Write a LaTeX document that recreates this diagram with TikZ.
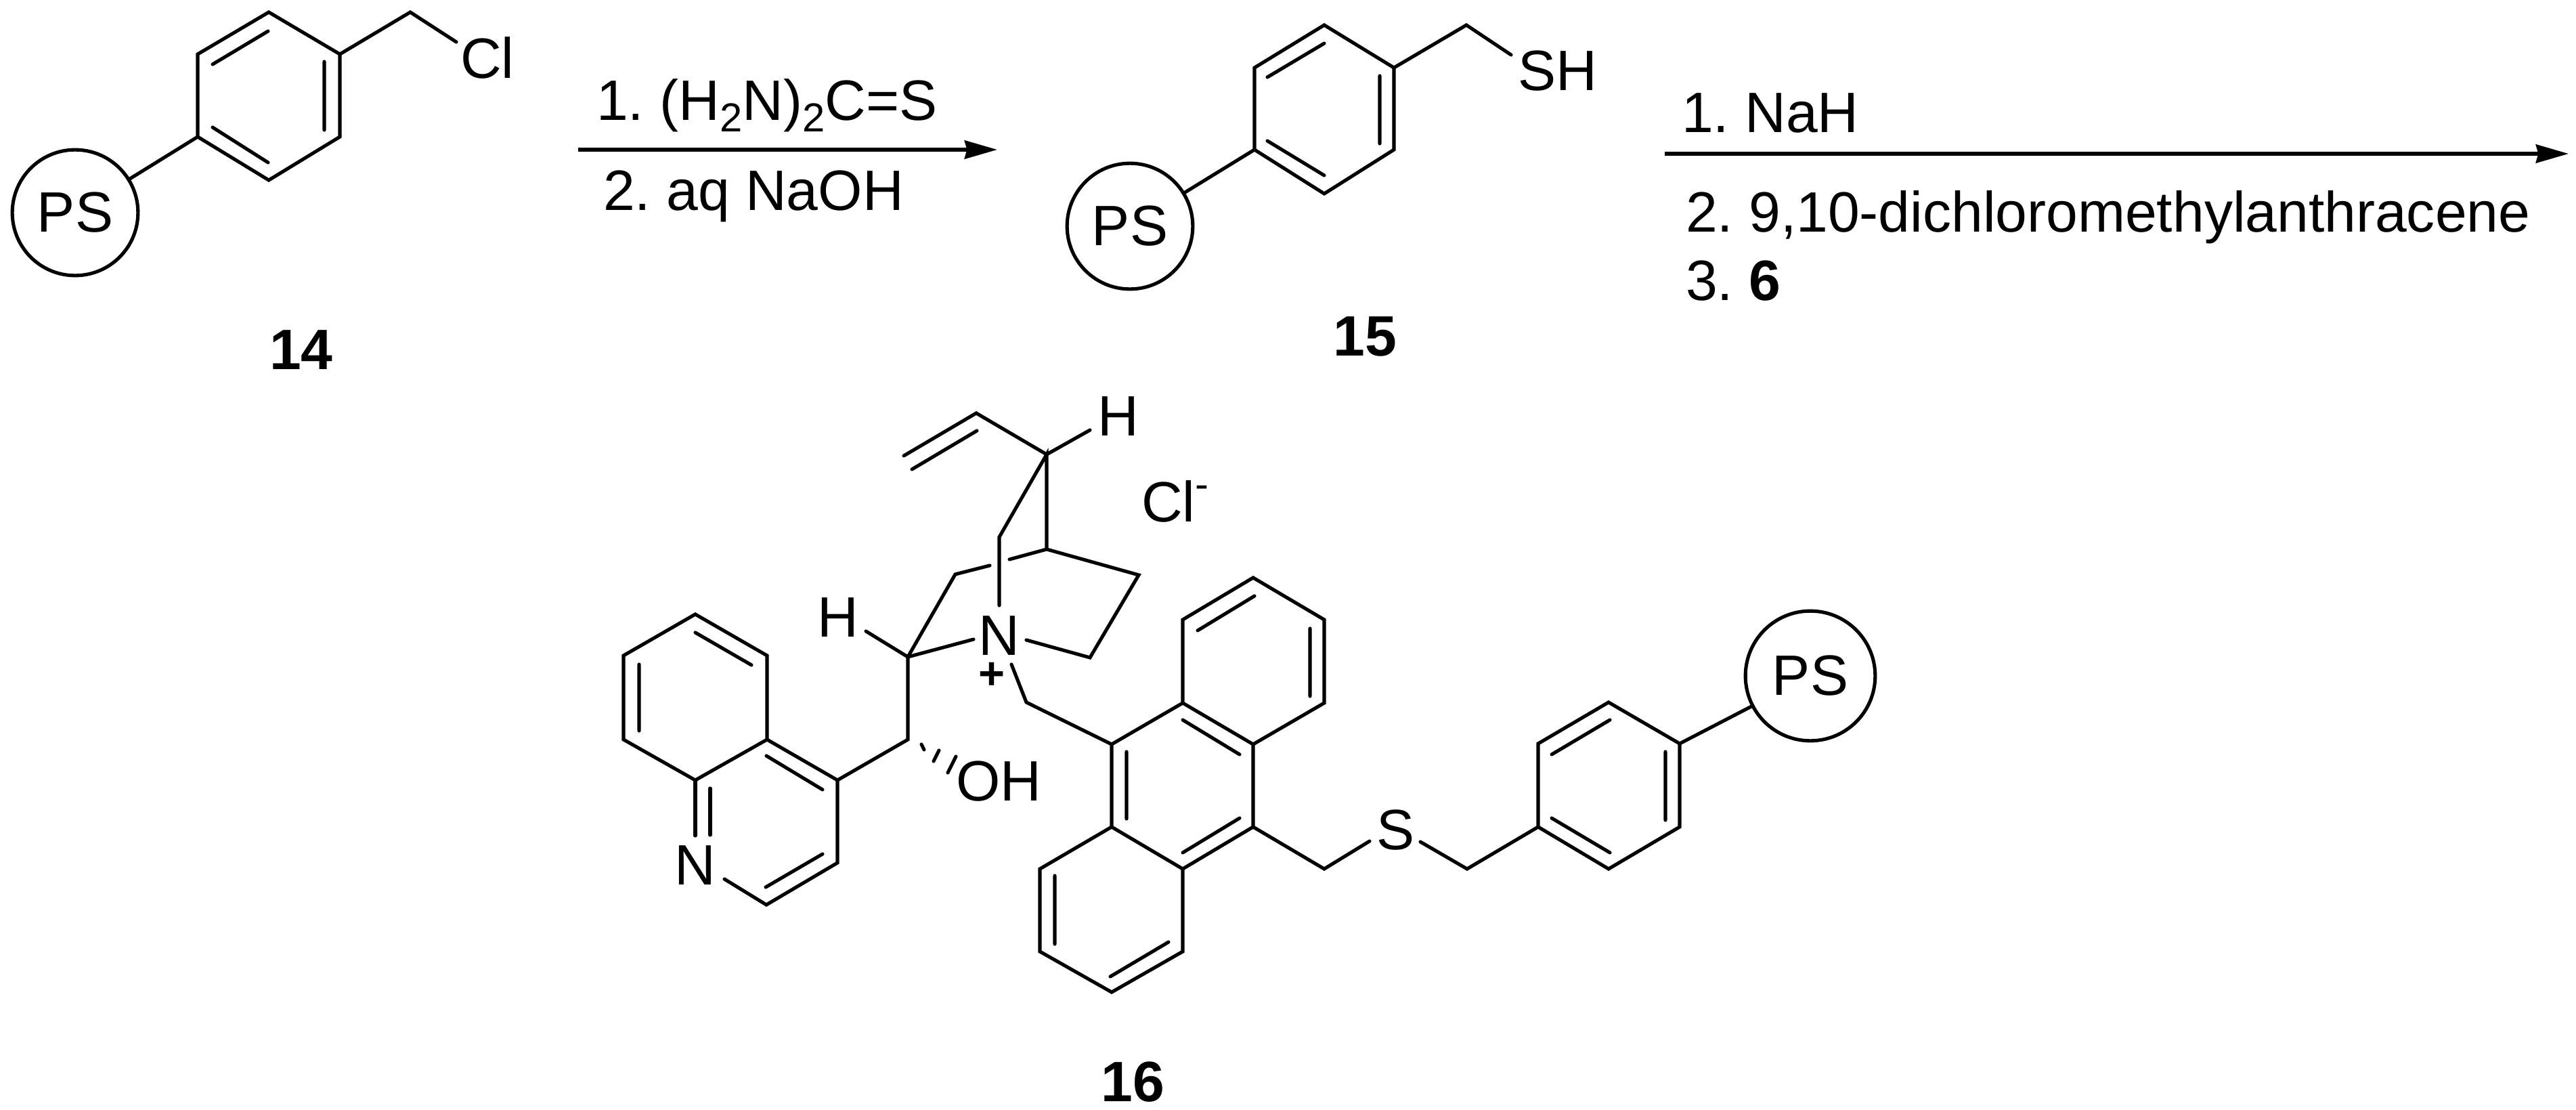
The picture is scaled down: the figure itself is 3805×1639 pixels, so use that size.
\documentclass[tikz,border=0pt]{standalone}
\usepackage{fontspec}
\setmainfont{Liberation Sans}
\usetikzlibrary{arrows.meta}
\frenchspacing
\newcommand\atm[3]{\coordinate (#1) at (#2,#3);}
\newcommand\chemsub[1]{\raisebox{-5.1pt}{\fontsize{17pt}{17pt}\selectfont #1}}
\tikzset{
  bond/.style={line width=1.45pt,line cap=round,black},
  rxn/.style={line width=1.5pt,black,-{Stealth[length=13.7pt,width=7.7pt,inset=1pt]}},
  txt/.style={inner sep=0,outer sep=0,font=\fontsize{23.9pt}{28pt}\selectfont,text=black},
  lbl/.style={txt,font=\bfseries\fontsize{23.9pt}{28pt}\selectfont},
  ps/.style={draw,circle,line width=1.45pt,inner sep=0,outer sep=0,txt,draw=black},
}
\begin{document}
\begin{tikzpicture}[x=0.01cm,y=-0.01cm]
\useasboundingbox (0,0) rectangle (3805,1639);
% ---------- compound 14
\node[ps,minimum size=52.8pt] (psA) at (111,314) {PS};
\atm{a1}{397}{18}\atm{a2}{502}{80}\atm{a3}{502}{202}\atm{a4}{397}{266}\atm{a5}{292}{202}\atm{a6}{292}{80}
\atm{a7}{606}{18}\atm{a8}{674}{62}
\atm{ai1}{314}{95}\atm{ai2}{396}{46}\atm{ai3}{479}{91}\atm{ai4}{479}{192}\atm{ai5}{314}{188}\atm{ai6}{396}{240}
\draw[bond] (a1)--(a2)--(a3)--(a4)--(a5)--(a6)--cycle;
\draw[bond] (a2)--(a7)--(a8);
\draw[bond] (a5)--(psA);
\draw[bond] (ai1)--(ai2) (ai3)--(ai4) (ai5)--(ai6);
\node[txt,anchor=base west] (clA) at (680,115) {Cl};
\node[lbl,anchor=base] (n14) at (445,545) {14};
% ---------- arrow 1
\atm{r1s}{854}{221}\atm{r1e}{1473}{221}
\draw[rxn] (r1s)--(r1e);
\node[txt,anchor=base west] (r1a) at (881,177) {1. (H\chemsub{2}N)\chemsub{2}C=S};
\node[txt,anchor=base west] (r1b) at (891,310) {2. aq NaOH};
% ---------- compound 15
\node[ps,minimum size=52.8pt] (psB) at (1669,334) {PS};
\atm{b1}{1956}{37}\atm{b2}{2059}{100}\atm{b3}{2059}{221}\atm{b4}{1956}{286}\atm{b5}{1853}{221}\atm{b6}{1853}{100}
\atm{b7}{2166}{37}\atm{b8}{2232}{81}
\atm{bi1}{1872}{114}\atm{bi2}{1956}{64}\atm{bi3}{2038}{112}\atm{bi4}{2038}{212}\atm{bi5}{1872}{208}\atm{bi6}{1956}{259}
\draw[bond] (b1)--(b2)--(b3)--(b4)--(b5)--(b6)--cycle;
\draw[bond] (b2)--(b7)--(b8);
\draw[bond] (b5)--(psB);
\draw[bond] (bi1)--(bi2) (bi3)--(bi4) (bi5)--(bi6);
\node[txt,anchor=base west] (shB) at (2242,133) {SH};
\node[lbl,anchor=base] (n15) at (2016,525) {15};
% ---------- arrow 2
\atm{r2s}{2459}{227}\atm{r2e}{3794}{227}
\draw[rxn] (r2s)--(r2e);
\node[txt,anchor=base west] (r2a) at (2484,195) {1. NaH};
\node[txt,anchor=base west] (r2b) at (2490,342) {2. 9,10-dichloromethylanthracene};
\node[txt,anchor=base west] (r2c) at (2490,443) {3. \textbf{6}};
% ---------- compound 16: quinoline
\atm{q1}{1027}{907}\atm{q2}{1133}{968}\atm{q3}{1133}{1092}\atm{q4}{1027}{1152}\atm{q5}{921}{1092}\atm{q6}{921}{968}
\atm{q7}{1237}{1152}\atm{q8}{1237}{1274}\atm{q9}{1132}{1336}
\atm{qn1}{1027}{1234}\atm{qn2}{1049}{1164}\atm{qn3}{1049}{1233}\atm{qn4}{1070}{1298}
\atm{qi1}{1027}{934}\atm{qi2}{1110}{982}\atm{qi3}{944}{981}\atm{qi4}{944}{1079}
\atm{qi5}{1132}{1116}\atm{qi6}{1215}{1166}\atm{qi7}{1215}{1261}\atm{qi8}{1131}{1310}
\draw[bond] (q1)--(q2)--(q3)--(q4)--(q5)--(q6)--cycle;
\draw[bond] (q3)--(q7)--(q8)--(q9)--(qn4);
\draw[bond] (q4)--(qn1) (qn2)--(qn3);
\draw[bond] (qi1)--(qi2) (qi3)--(qi4) (qi5)--(qi6) (qi7)--(qi8);
\node[txt,anchor=base] (nq) at (1027,1306) {N};
% linker and quinuclidine
\atm{c1}{1341}{1092}\atm{c2}{1341}{970}\atm{c3}{1279}{932}\atm{c4}{1438}{944}
\atm{d1}{1411}{848}\atm{d2}{1462}{835}\atm{d3}{1491}{826}\atm{d4}{1546}{811}\atm{d5}{1682}{849}\atm{d6}{1610}{971}\atm{d7}{1516}{945}
\atm{e1}{1546}{671}\atm{e2}{1476}{793}\atm{e3}{1476}{894}
\atm{v1}{1442}{610}\atm{v2}{1335}{673}\atm{v3}{1443}{636}\atm{v4}{1347}{693}\atm{v5}{1610}{635}
\atm{m1}{1494}{981}\atm{m2}{1516}{1037}
\atm{w1}{1361}{1099}\atm{w2}{1365}{1107}\atm{w3}{1387}{1108}\atm{w4}{1379}{1124}\atm{w5}{1412}{1117}\atm{w6}{1400}{1141}
\draw[bond] (q7)--(c1)--(c2)--(c3);
\draw[bond] (c2)--(c4);
\draw[bond] (c2)--(d1)--(d2);
\draw[bond] (d3)--(d4)--(d5)--(d6)--(d7);
\draw[bond] (d4)--(e1)--(e2)--(e3);
\draw[bond] (e1)--(v1)--(v2) (v3)--(v4);
\draw[bond] (e1)--(v5);
\draw[bond] (w1)--(w2) (w3)--(w4) (w5)--(w6);
\node[txt,anchor=base] (hA) at (1238,940) {H};
\node[txt,anchor=base] (hB) at (1652,643) {H};
\node[txt,anchor=base] (nq2) at (1476,967) {N};
\node[inner sep=0,outer sep=0,font=\fontsize{19pt}{19pt}\selectfont\bfseries] (plus) at (1465,998) {+};
\node[txt,anchor=base west] (clB) at (1686,770) {Cl\raisebox{9.7pt}{\fontsize{17pt}{17pt}\selectfont -}};
\node[txt,anchor=base west] (oh) at (1412,1182) {OH};
% anthracene
\atm{f1}{1642}{1099}\atm{f2}{1747}{1038}\atm{f3}{1851}{1099}\atm{f4}{1851}{1221}\atm{f5}{1747}{1283}\atm{f6}{1642}{1221}
\atm{g1}{1851}{853}\atm{g2}{1956}{915}\atm{g3}{1956}{1038}\atm{g4}{1747}{915}
\atm{g5}{1536}{1283}\atm{g6}{1536}{1405}\atm{g7}{1642}{1465}\atm{g8}{1747}{1405}
\atm{gi1}{1769}{931}\atm{gi2}{1853}{880}\atm{gi3}{1935}{928}\atm{gi4}{1935}{1028}
\atm{gi5}{1747}{1063}\atm{gi6}{1831}{1114}\atm{gi7}{1664}{1110}\atm{gi8}{1664}{1209}\atm{gi9}{1747}{1259}\atm{gi10}{1831}{1208}
\atm{gi11}{1558}{1293}\atm{gi12}{1558}{1394}\atm{gi13}{1726}{1391}\atm{gi14}{1640}{1442}
\draw[bond] (m1)--(m2)--(f1);
\draw[bond] (f1)--(f2)--(f3)--(f4)--(f5)--(f6)--cycle;
\draw[bond] (f2)--(g4)--(g1)--(g2)--(g3)--(f3);
\draw[bond] (f6)--(g5)--(g6)--(g7)--(g8)--(f5);
\draw[bond] (gi1)--(gi2) (gi3)--(gi4) (gi5)--(gi6) (gi7)--(gi8) (gi9)--(gi10) (gi11)--(gi12) (gi13)--(gi14);
% thioether and benzyl
\atm{h1}{1956}{1283}\atm{h2}{2023}{1242}\atm{h3}{2098}{1243}\atm{h4}{2167}{1283}
\atm{p1}{2272}{1221}\atm{p2}{2272}{1098}\atm{p3}{2376}{1037}\atm{p4}{2481}{1098}\atm{p5}{2481}{1221}\atm{p6}{2376}{1283}
\atm{pi1}{2292}{1114}\atm{pi2}{2378}{1063}\atm{pi3}{2460}{1110}\atm{pi4}{2460}{1211}\atm{pi5}{2292}{1208}\atm{pi6}{2378}{1259}
\draw[bond] (f4)--(h1)--(h2) (h3)--(h4)--(p1);
\draw[bond] (p1)--(p2)--(p3)--(p4)--(p5)--(p6)--cycle;
\draw[bond] (pi1)--(pi2) (pi3)--(pi4) (pi5)--(pi6);
\node[ps,minimum size=54.5pt] (psC) at (2674,998) {PS};
\draw[bond] (p4)--(psC);
\node[txt,anchor=base] (sC) at (2062,1254) {S};
\node[lbl,anchor=base] (n16) at (1673,1626) {16};
\end{tikzpicture}
\end{document}
